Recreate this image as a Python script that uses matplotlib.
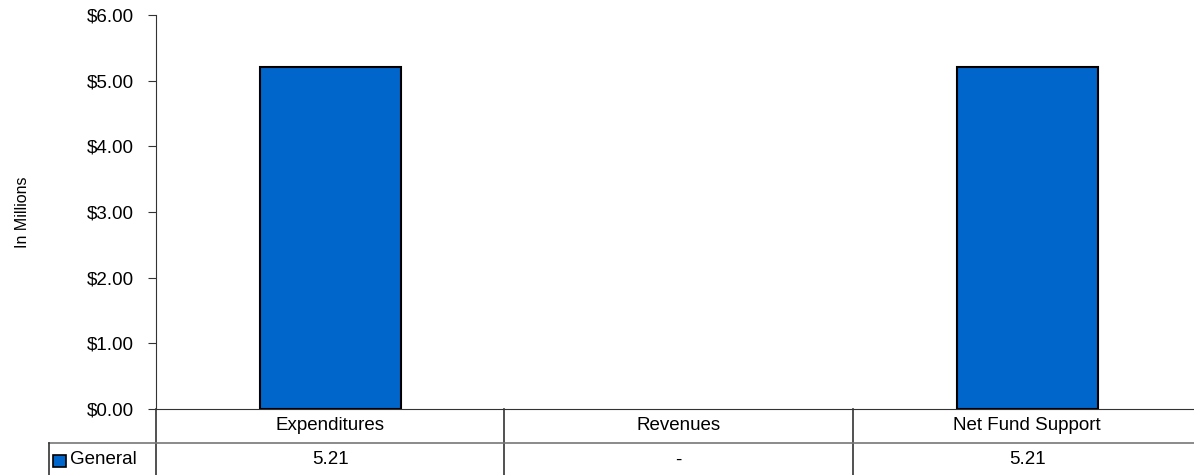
import matplotlib.pyplot as plt
import matplotlib.transforms as mtransforms
from matplotlib.patches import Rectangle

plt.rcParams['font.family'] = ['Liberation Sans', 'DejaVu Sans']

# data
categories = ['Expenditures', 'Revenues', 'Net Fund Support']
series_name = 'General'
general = [5.21, 0.0, 5.21]
table_labels = ['5.21', '-', '5.21']
yticks = [0, 1, 2, 3, 4, 5, 6]

W, H = 1194, 475
fig = plt.figure(figsize=(W / 100, H / 100), dpi=100)

# axes in pixels: left 156, right ~1201, top 15, bottom 409
ax = fig.add_axes([156 / W, (H - 409) / H, (1201.5 - 156) / W, 394 / H])
x = list(range(len(categories)))
# no outline for empty bars (Excel draws nothing there)
lws = [1.5 if v > 0 else 0 for v in general]
ax.bar(x, general, width=0.405, color='#0066CC', edgecolor='black', linewidth=lws, zorder=3)
ax.set_xlim(-0.5, len(categories) - 0.5)
ax.set_ylim(0, 6)
ax.set_yticks(yticks)
ax.set_yticklabels(['${:.2f}'.format(v) for v in yticks], fontsize=13.5)
ax.set_xticks([])
for s in ['top', 'right']:
    ax.spines[s].set_visible(False)
ax.spines['left'].set_color('#333333')
ax.spines['bottom'].set_color('#333333')
ax.tick_params(axis='y', direction='out', length=6, color='#333333', pad=10)
ax.set_ylabel('In Millions', fontsize=11.5)
ax.yaxis.set_label_coords(-126 / 1045.5, 0.5)

# data table below the axes
fy = lambda p: 1 - p / H
bt = mtransforms.blended_transform_factory(ax.transData, fig.transFigure)
ft = fig.transFigure

# horizontal line between header and data rows
fig.add_artist(plt.Line2D([49 / W, 1], [fy(443), fy(443)], transform=ft, color='#777777', lw=1.2))
# left border of the label column
fig.add_artist(plt.Line2D([49 / W, 49 / W], [fy(443), 0], transform=ft, color='#333333', lw=1.2))
# vertical separators
for b in [-0.5, 0.5, 1.5]:
    ax.add_line(plt.Line2D([b, b], [fy(409), 0], transform=bt, color='#333333', lw=1.2, clip_on=False))

for i, (cat, lab) in enumerate(zip(categories, table_labels)):
    ax.text(i, fy(425), cat, transform=bt, ha='center', va='center', fontsize=13.5)
    ax.text(i, fy(460), lab, transform=bt, ha='center', va='center', fontsize=13.5)

# legend key
fig.add_artist(Rectangle((53 / W, fy(467)), 13 / W, 12 / H, transform=ft,
                         facecolor='#0066CC', edgecolor='black', lw=1.2))
fig.text(70 / W, fy(460), series_name, ha='left', va='center', fontsize=13.5)

fig.savefig('out.png', dpi=100)
